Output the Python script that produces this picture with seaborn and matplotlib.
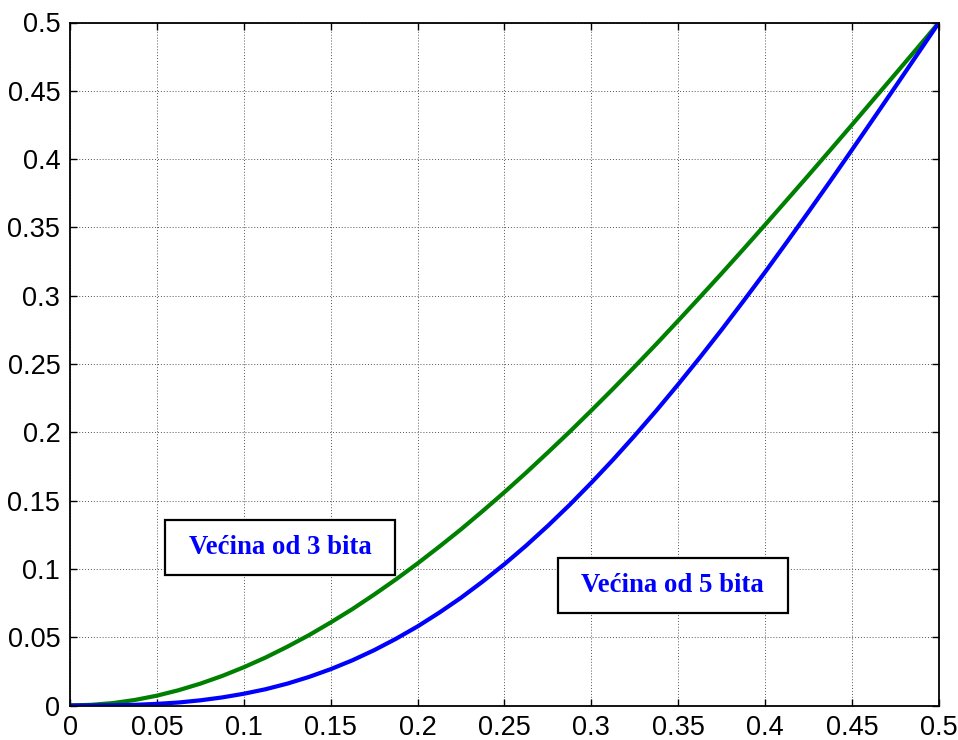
import matplotlib
matplotlib.use("Agg")
import matplotlib.pyplot as plt
import seaborn as sns
import pandas as pd
from matplotlib.patches import Rectangle

# Data
p_values = [0.0, 0.0125, 0.025, 0.0375, 0.05, 0.0625, 0.075, 0.0875, 0.1, 0.1125,
            0.125, 0.1375, 0.15, 0.1625, 0.175, 0.1875, 0.2, 0.2125, 0.225, 0.2375,
            0.25, 0.2625, 0.275, 0.2875, 0.3, 0.3125, 0.325, 0.3375, 0.35, 0.3625,
            0.375, 0.3875, 0.4, 0.4125, 0.425, 0.4375, 0.45, 0.4625, 0.475, 0.4875, 0.5]
majority3 = [0.0, 0.0005, 0.0018, 0.0041, 0.0072, 0.0112, 0.016, 0.0216, 0.028, 0.0351,
             0.043, 0.0515, 0.0608, 0.0706, 0.0812, 0.0923, 0.104, 0.1163, 0.129, 0.1424,
             0.1562, 0.1705, 0.1853, 0.2004, 0.216, 0.2319, 0.2482, 0.2648, 0.2818, 0.299,
             0.3164, 0.3341, 0.352, 0.3701, 0.3883, 0.4067, 0.4252, 0.4439, 0.4625, 0.4812, 0.5]
majority5 = [0.0, 0.00002, 0.00015, 0.0005, 0.0012, 0.0022, 0.0038, 0.0059, 0.0086, 0.0119,
             0.016, 0.0209, 0.0266, 0.0331, 0.0405, 0.0488, 0.0579, 0.068, 0.0789, 0.0908,
             0.1035, 0.1171, 0.1316, 0.1469, 0.1631, 0.18, 0.1977, 0.2161, 0.2352, 0.2549,
             0.2752, 0.2961, 0.3174, 0.3393, 0.3615, 0.384, 0.4069, 0.43, 0.4532, 0.4766, 0.5]
series_names = ["Većina od 3 bita", "Većina od 5 bita"]
x_ticks = [0, 0.05, 0.1, 0.15, 0.2, 0.25, 0.3, 0.35, 0.4, 0.45, 0.5]
x_ticklabels = ["0", "0.05", "0.1", "0.15", "0.2", "0.25", "0.3", "0.35", "0.4", "0.45", "0.5"]
y_ticks = x_ticks
y_ticklabels = x_ticklabels

df = pd.DataFrame({
    "p": p_values * 2,
    "val": majority3 + majority5,
    "series": [series_names[0]] * len(p_values) + [series_names[1]] * len(p_values),
})

sns.set_style("ticks")
plt.rcParams["font.family"] = ["Liberation Sans", "DejaVu Sans"]

fig = plt.figure(figsize=(9.58, 7.40), dpi=100)
ax = fig.add_axes([70 / 958, 1 - 705.5 / 740, (939 - 70) / 958, (705.5 - 22.5) / 740])

sns.lineplot(data=df, x="p", y="val", hue="series",
             palette={series_names[0]: "#008000", series_names[1]: "#0000ff"},
             linewidth=3.0, legend=False, ax=ax, sort=False)

ax.set_xlim(0, 0.5)
ax.set_ylim(0, 0.5)
ax.set_xticks(x_ticks)
ax.set_xticklabels(x_ticklabels)
ax.set_yticks(y_ticks)
ax.set_yticklabels(y_ticklabels)
ax.set_xlabel("")
ax.set_ylabel("")
ax.grid(True, linestyle=(0, (1, 2)), color="#555555", linewidth=0.7)
ax.tick_params(direction="in", length=5, width=1, top=True, right=True,
               labelsize=19.5, colors="black", pad=7)
for s in ax.spines.values():
    s.set_linewidth(1.3)
    s.set_color("black")
    s.set_visible(True)

# Text boxes
boxes = [
    (series_names[0], (0.0547, 0.0958), 0.1325, 0.0402, (0.121, 0.1155)),
    (series_names[1], (0.2805, 0.0680), 0.1325, 0.0402, (0.3468, 0.0878)),
]
for label, (bx, by), bw, bh, (tx, ty) in boxes:
    ax.add_patch(Rectangle((bx, by), bw, bh, facecolor="white", edgecolor="black",
                           linewidth=1.6, zorder=5))
    ax.text(tx, ty, label, ha="center", va="center", color="#0000ff",
            fontsize=19.3, fontweight="bold", family=["Liberation Serif", "DejaVu Serif"],
            zorder=6)

fig.savefig("out.png", dpi=100)
